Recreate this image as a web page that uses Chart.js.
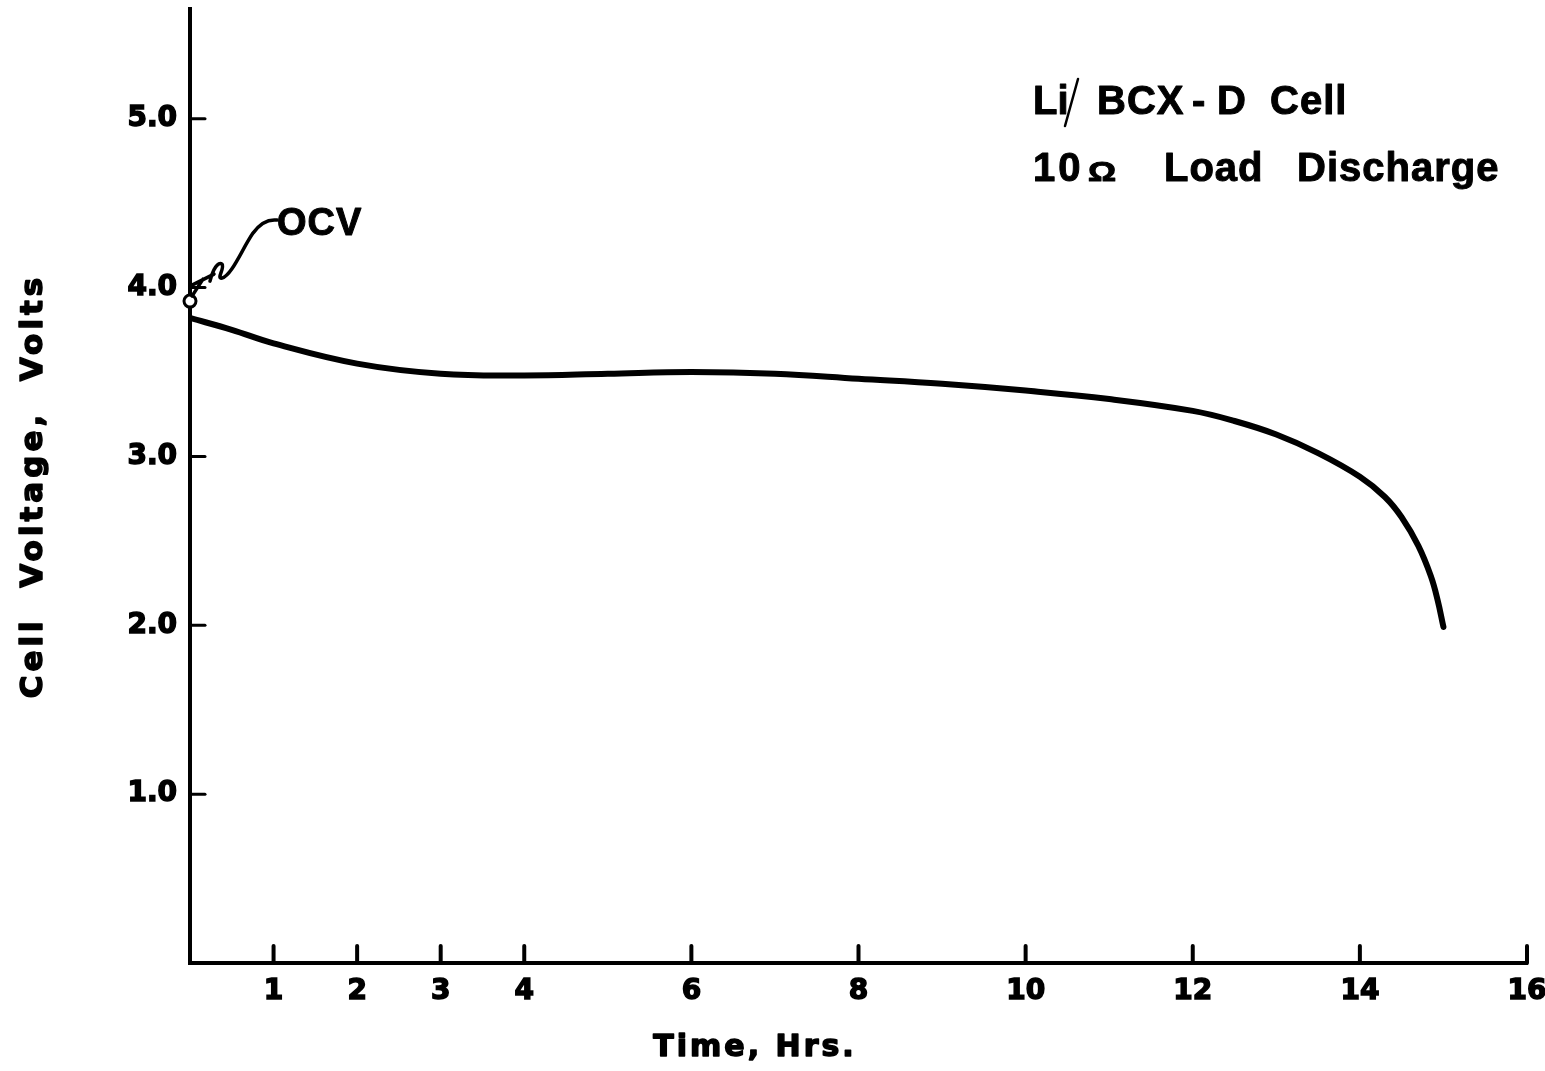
<!DOCTYPE html>
<html>
<head>
<meta charset="utf-8">
<script src="https://cdn.jsdelivr.net/npm/chart.js@4"></script>
<style>
  html, body { margin: 0; padding: 0; background: #fff; }
  #wrap { position: relative; width: 1545px; height: 1071px; }
</style>
</head>
<body>
<div id="wrap"><canvas id="dischargeChart"></canvas></div>
<script>
// Li/BCX D cell, 10 ohm load discharge curve
const times = [0, 0.5, 1, 2, 3, 4, 5, 6, 7, 8, 9, 10, 11, 12, 12.5, 13, 13.5, 14, 14.3, 14.5, 14.7, 14.85, 14.93, 15];
const volts = [3.82, 3.75, 3.67, 3.55, 3.49, 3.48, 3.49, 3.50, 3.49, 3.46, 3.43, 3.39, 3.34, 3.27, 3.21, 3.13, 3.02, 2.88, 2.76, 2.64, 2.47, 2.29, 2.15, 1.99];

// open circuit voltage point
const ocvTime = [0];
const ocvVolts = [3.92];

// tick labels
const xTicks = [1, 2, 3, 4, 6, 8, 10, 12, 14, 16];
const yTicks = [1, 2, 3, 4, 5];

const TICK_FONT = { family: 'DejaVu Sans', weight: 'bold', size: 28 };

// fill + thin stroke so the text looks as heavy as the old lettering
function drawText(ctx, txt, x, y, font, spacing, stroke) {
  ctx.font = font;
  ctx.letterSpacing = (spacing || 0) + 'px';
  ctx.fillText(txt, x, y);
  if (stroke) {
    ctx.lineWidth = stroke;
    ctx.strokeText(txt, x, y);
  }
  ctx.letterSpacing = '0px';
}

// inward tick marks, OCV leader, notes and axis titles
const decorations = {
  id: 'decorations',
  afterDraw(chart) {
    const { ctx, chartArea: a, scales: { x, y } } = chart;
    ctx.save();
    ctx.strokeStyle = '#000';
    ctx.fillStyle = '#000';
    ctx.lineCap = 'round';
    ctx.lineJoin = 'round';

    ctx.lineWidth = 4;
    xTicks.forEach(v => {
      const px = x.getPixelForValue(v);
      ctx.beginPath(); ctx.moveTo(px, a.bottom); ctx.lineTo(px, a.bottom - 17); ctx.stroke();
    });
    ctx.lineWidth = 3;
    yTicks.forEach(v => {
      const py = y.getPixelForValue(v);
      ctx.beginPath(); ctx.moveTo(a.left, py); ctx.lineTo(a.left + 15, py); ctx.stroke();
    });

    // hand drawn leader from the OCV point to its label
    const p = { x: x.getPixelForValue(ocvTime[0]), y: y.getPixelForValue(ocvVolts[0]) };
    ctx.lineWidth = 3.5;
    ctx.beginPath();
    ctx.moveTo(p.x + 2, p.y - 5); ctx.lineTo(p.x + 13, p.y - 22);
    ctx.moveTo(p.x + 2, p.y - 16); ctx.lineTo(p.x + 24, p.y - 27);
    ctx.stroke();
    ctx.beginPath();
    ctx.moveTo(p.x + 20, p.y - 20);
    ctx.bezierCurveTo(p.x + 23, p.y - 32, p.x + 28, p.y - 40, p.x + 32, p.y - 37);
    ctx.bezierCurveTo(p.x + 35, p.y - 33, p.x + 26, p.y - 22, p.x + 32, p.y - 23);
    ctx.bezierCurveTo(p.x + 42, p.y - 26, p.x + 52, p.y - 52, p.x + 63, p.y - 68);
    ctx.bezierCurveTo(p.x + 71, p.y - 79, p.x + 79, p.y - 82, p.x + 87, p.y - 81);
    ctx.stroke();

    ctx.textBaseline = 'alphabetic';
    ctx.textAlign = 'left';
    drawText(ctx, 'OCV', p.x + 87, p.y - 66, 'bold 38px "Liberation Sans"', 1, 1);

    // notes, top right
    const note = 'bold 40px "Liberation Sans"';
    drawText(ctx, 'Li', 1033, 114, note, 0, 1);
    ctx.lineWidth = 2.5;
    ctx.beginPath(); ctx.moveTo(1078, 79); ctx.lineTo(1065, 126); ctx.stroke();
    drawText(ctx, 'BCX', 1097, 114, note, 1, 1);
    drawText(ctx, '-', 1192, 114, note, 0, 1);
    drawText(ctx, 'D', 1217, 114, note, 0, 1);
    drawText(ctx, 'Cell', 1270, 114, note, 1, 1);
    drawText(ctx, '10', 1033, 181, note, 3, 1);
    ctx.save();
    ctx.translate(1088, 181);
    ctx.scale(1.3, 1);
    drawText(ctx, 'Ω', 0, 0, 'bold 27px "Liberation Sans"', 0, 1);
    ctx.restore();
    drawText(ctx, 'Load', 1164, 181, note, 1, 1);
    drawText(ctx, 'Discharge', 1297, 181, note, 1, 1);

    // axis titles
    ctx.textAlign = 'center';
    ctx.textBaseline = 'middle';
    drawText(ctx, 'Time, Hrs.', 755, 1048, 'bold 30px "DejaVu Sans"', 3, 1.5);
    ctx.translate(34, (a.top + a.bottom) / 2);
    ctx.rotate(-Math.PI / 2);
    drawText(ctx, 'Cell  Voltage,  Volts', 0, 0, 'bold 31px "DejaVu Sans"', 4, 1.5);
    ctx.restore();
  }
};

new Chart(document.getElementById('dischargeChart'), {
  type: 'line',
  data: {
    datasets: [{
      label: 'Cell voltage',
      data: times.map((t, i) => ({ x: t, y: volts[i] })),
      borderColor: '#000',
      borderWidth: 6,
      borderCapStyle: 'round',
      pointRadius: 0,
      tension: 0.4,
      fill: false
    }, {
      label: 'OCV',
      data: ocvTime.map((t, i) => ({ x: t, y: ocvVolts[i] })),
      showLine: false,
      pointRadius: 6,
      pointBorderWidth: 3,
      pointBorderColor: '#000',
      pointBackgroundColor: '#fff',
      clip: false
    }]
  },
  options: {
    responsive: true,
    maintainAspectRatio: false,
    animation: false,
    layout: { padding: { top: 8, right: 18, left: 0, bottom: 0 } },
    plugins: { legend: { display: false }, tooltip: { enabled: false } },
    scales: {
      x: {
        type: 'linear',
        min: 0,
        max: 16,
        afterBuildTicks: s => { s.ticks = xTicks.map(v => ({ value: v })); },
        afterFit: s => { s.height = 108; s.paddingLeft = 0; s.paddingRight = 0; },
        grid: { display: false },
        border: { display: true, color: '#000', width: 4 },
        ticks: { color: '#000', font: TICK_FONT, padding: 4, maxRotation: 0, autoSkip: false,
                 textStrokeColor: '#000', textStrokeWidth: 1.5 }
      },
      y: {
        type: 'linear',
        min: 0,
        max: 5.65,
        afterBuildTicks: s => { s.ticks = yTicks.map(v => ({ value: v })); },
        afterFit: s => { s.width = 190; s.paddingTop = 0; s.paddingBottom = 0; },
        grid: { display: false },
        border: { display: true, color: '#000', width: 4 },
        ticks: { color: '#000', font: TICK_FONT, padding: 5, callback: v => v.toFixed(1),
                 textStrokeColor: '#000', textStrokeWidth: 1.5 }
      }
    }
  },
  plugins: [decorations]
});
</script>
</body>
</html>
